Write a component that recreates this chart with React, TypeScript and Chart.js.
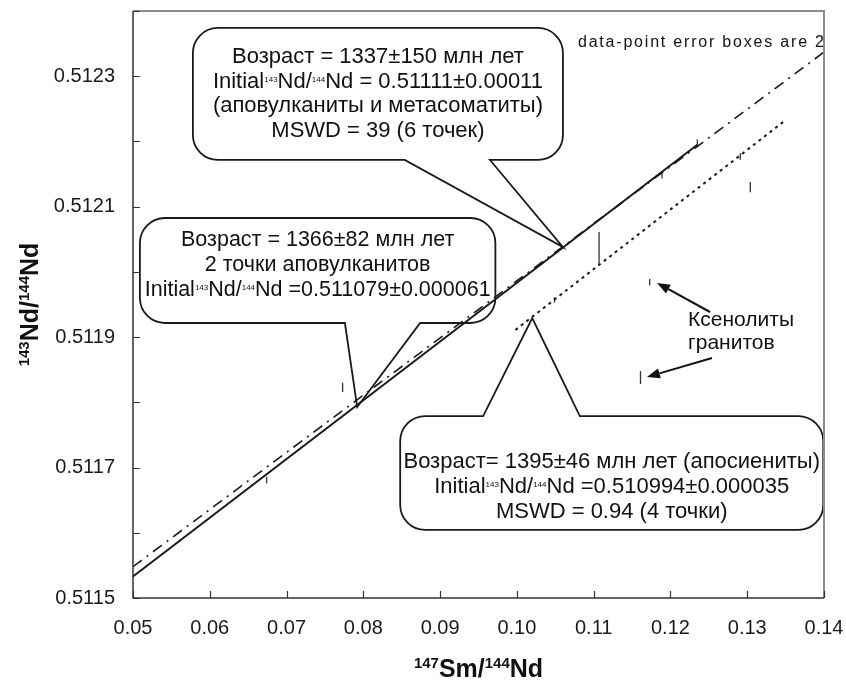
import React, { useEffect, useRef } from 'react';
import { Chart, registerables } from 'chart.js';

Chart.register(...registerables);

const FONT = "'Liberation Sans', Arial, Helvetica, sans-serif";

// Axis ranges and ticks
const xMin = 0.05;
const xMax = 0.14;
const yMin = 0.5115;
const yMax = 0.5124;
const xTickValues = [0.05, 0.06, 0.07, 0.08, 0.09, 0.10, 0.11, 0.12, 0.13, 0.14];
const xTickLabels = ['0.05', '0.06', '0.07', '0.08', '0.09', '0.10', '0.11', '0.12', '0.13', '0.14'];
const yTickValues = [0.5115, 0.5116, 0.5117, 0.5118, 0.5119, 0.5120, 0.5121, 0.5122, 0.5123, 0.5124];
const yTickLabels = ['0.5115', '', '0.5117', '', '0.5119', '', '0.5121', '', '0.5123', ''];

// Isochron lines (end points)
const solidLineX = [0.05, 0.1235];
const solidLineY = [0.511533, 0.512195];
const dashDotLineX = [0.05, 0.14];
const dashDotLineY = [0.511548, 0.512337];
const dottedLineX = [0.0998, 0.1347];
const dottedLineY = [0.511911, 0.51223];

// Data-point error boxes (x, y, half height in y)
const pointX = [0.0674, 0.0773, 0.1107, 0.1304, 0.1173, 0.1161, 0.1189, 0.1235, 0.1291, 0.1049];
const pointY = [0.511681, 0.511823, 0.512036, 0.51213, 0.511984, 0.511838, 0.512148, 0.512197, 0.512177, 0.511957];
const pointErr = [0.000005, 0.000007, 0.000025, 0.000008, 0.000005, 0.00001, 0.000005, 0.000006, 0.000005, 0.000004];

// Callout texts
const calloutTopLines = [
  'Возраст = 1337±150 млн лет',
  'Initial^{143}Nd/^{144}Nd = 0.51111±0.00011',
  '(аповулканиты и метасоматиты)',
  'MSWD = 39 (6 точек)',
];
const calloutMidLines = [
  'Возраст = 1366±82 млн лет',
  '2 точки аповулканитов',
  'Initial^{143}Nd/^{144}Nd =0.511079±0.000061',
];
const calloutBottomLines = [
  'Возраст= 1395±46 млн лет (апосиениты)',
  'Initial^{143}Nd/^{144}Nd =0.510994±0.000035',
  'MSWD = 0.94 (4 точки)',
];
const errorNote = 'data-point error boxes are 2σ';
const xenoLabelLines = ['Ксенолиты', 'гранитов'];

// Annotation placement (data coordinates)
const callouts = [
  {
    box: { x0: 0.0578, x1: 0.106, yTop: 0.512374, yBot: 0.5121716 },
    ptr: { side: 'bottom', b0: 0.0854, b1: 0.0965, tx: 0.106, ty: 0.512038 },
    lines: calloutTopLines,
    firstY: 0.5123295,
    size: 22,
    gap: 24.5,
  },
  {
    box: { x0: 0.0509, x1: 0.0972, yTop: 0.5120826, yBot: 0.5119216 },
    ptr: { side: 'bottom', b0: 0.0776, b1: 0.0874, tx: 0.0792, ty: 0.5117928 },
    lines: calloutMidLines,
    firstY: 0.5120489,
    size: 21.5,
    gap: 25,
  },
  {
    box: { x0: 0.0848, x1: 0.1399, yTop: 0.511779, yBot: 0.5116043 },
    ptr: { side: 'top', b0: 0.0956, b1: 0.1082, tx: 0.102, ty: 0.5119293 },
    lines: calloutBottomLines,
    firstY: 0.5117085,
    size: 22,
    gap: 25,
  },
];
const errorNotePos = { x: 0.10795, y: 0.512351 };
const xenoLabelPos = { x: 0.1223, y: 0.5119262 };
const xenoArrows = [
  { fx: 0.12515, fy: 0.5119385, tx: 0.11825, ty: 0.511983 },
  { fx: 0.12541, fy: 0.511868, tx: 0.11694, ty: 0.5118388 },
];

type Part = { t: string; sup: boolean };
function parseRich(s: string): Part[] {
  const parts: Part[] = [];
  const re = /\^\{([^}]*)\}/g;
  let last = 0;
  let m: RegExpExecArray | null;
  while ((m = re.exec(s))) {
    if (m.index > last) parts.push({ t: s.slice(last, m.index), sup: false });
    parts.push({ t: m[1], sup: true });
    last = re.lastIndex;
  }
  if (last < s.length) parts.push({ t: s.slice(last), sup: false });
  return parts;
}

function drawRichCentered(ctx: CanvasRenderingContext2D, s: string, cx: number, cy: number, size: number, supSize: number) {
  const parts = parseRich(s);
  const mainFont = `${size}px ${FONT}`;
  const supFont = `${supSize}px ${FONT}`;
  let total = 0;
  const widths = parts.map((p) => {
    ctx.font = p.sup ? supFont : mainFont;
    const w = ctx.measureText(p.t).width;
    total += w;
    return w;
  });
  let x = cx - total / 2;
  ctx.textAlign = 'left';
  ctx.textBaseline = 'middle';
  parts.forEach((p, i) => {
    ctx.font = p.sup ? supFont : mainFont;
    ctx.fillText(p.t, x, p.sup ? cy - 2 : cy);
    x += widths[i];
  });
}

function drawTitle(ctx: CanvasRenderingContext2D, parts: Part[], cx: number, baseline: number) {
  const mainFont = `bold 25px ${FONT}`;
  const supFont = `bold 15px ${FONT}`;
  let total = 0;
  const widths = parts.map((p) => {
    ctx.font = p.sup ? supFont : mainFont;
    const w = ctx.measureText(p.t).width;
    total += w;
    return w;
  });
  let x = cx - total / 2;
  ctx.textAlign = 'left';
  ctx.textBaseline = 'alphabetic';
  parts.forEach((p, i) => {
    ctx.font = p.sup ? supFont : mainFont;
    ctx.fillText(p.t, x, p.sup ? baseline - 9 : baseline);
    x += widths[i];
  });
}

function calloutPath(ctx: CanvasRenderingContext2D, l: number, t: number, r: number, b: number, rad: number, ptr: any) {
  ctx.beginPath();
  ctx.moveTo(l + rad, t);
  if (ptr.side === 'top') {
    ctx.lineTo(ptr.b0, t);
    ctx.lineTo(ptr.tx, ptr.ty);
    ctx.lineTo(ptr.b1, t);
  }
  ctx.lineTo(r - rad, t);
  ctx.arcTo(r, t, r, t + rad, rad);
  ctx.lineTo(r, b - rad);
  ctx.arcTo(r, b, r - rad, b, rad);
  if (ptr.side === 'bottom') {
    ctx.lineTo(ptr.b1, b);
    ctx.lineTo(ptr.tx, ptr.ty);
    ctx.lineTo(ptr.b0, b);
  }
  ctx.lineTo(l + rad, b);
  ctx.arcTo(l, b, l, b - rad, rad);
  ctx.lineTo(l, t + rad);
  ctx.arcTo(l, t, l + rad, t, rad);
  ctx.closePath();
}

function drawArrow(ctx: CanvasRenderingContext2D, fx: number, fy: number, tx: number, ty: number) {
  const ang = Math.atan2(ty - fy, tx - fx);
  const head = 13;
  const hw = 5;
  const bx = tx - head * Math.cos(ang);
  const by = ty - head * Math.sin(ang);
  ctx.beginPath();
  ctx.moveTo(fx, fy);
  ctx.lineTo(bx, by);
  ctx.stroke();
  ctx.beginPath();
  ctx.moveTo(tx, ty);
  ctx.lineTo(bx + hw * Math.sin(ang), by - hw * Math.cos(ang));
  ctx.lineTo(bx - hw * Math.sin(ang), by + hw * Math.cos(ang));
  ctx.closePath();
  ctx.fill();
}

const annotationPlugin = {
  id: 'isochronAnnotations',
  beforeDatasetsDraw(chart: any) {
    const ctx: CanvasRenderingContext2D = chart.ctx;
    const xs = chart.scales.x;
    const ys = chart.scales.y;
    const X = (v: number) => xs.getPixelForValue(v);
    const Y = (v: number) => ys.getPixelForValue(v);
    ctx.save();
    callouts.forEach((c) => {
      const l = X(c.box.x0);
      const r = X(c.box.x1);
      const t = Y(c.box.yTop);
      const b = Y(c.box.yBot);
      const ptr = { side: c.ptr.side, b0: X(c.ptr.b0), b1: X(c.ptr.b1), tx: X(c.ptr.tx), ty: Y(c.ptr.ty) };
      calloutPath(ctx, l, t, r, b, 25, ptr);
      ctx.fillStyle = '#ffffff';
      ctx.fill();
      ctx.strokeStyle = '#1a1a1a';
      ctx.lineWidth = 1.8;
      ctx.stroke();
      ctx.fillStyle = '#111111';
      const cx = (l + r) / 2;
      const y0 = Y(c.firstY);
      c.lines.forEach((line, i) => drawRichCentered(ctx, line, cx, y0 + i * c.gap, c.size, 8));
    });
    // error note, clipped to the plot area
    const ca = chart.chartArea;
    ctx.save();
    ctx.beginPath();
    ctx.rect(ca.left, ca.top, ca.right - ca.left, ca.bottom - ca.top);
    ctx.clip();
    ctx.font = `16px ${FONT}`;
    (ctx as any).letterSpacing = '1.8px';
    ctx.fillStyle = '#111111';
    ctx.textAlign = 'left';
    ctx.textBaseline = 'middle';
    ctx.fillText(errorNote, X(errorNotePos.x), Y(errorNotePos.y));
    (ctx as any).letterSpacing = '0px';
    ctx.restore();
    // xenolith label and arrows
    ctx.font = `21px ${FONT}`;
    ctx.fillStyle = '#111111';
    ctx.textAlign = 'left';
    ctx.textBaseline = 'middle';
    xenoLabelLines.forEach((s, i) => ctx.fillText(s, X(xenoLabelPos.x), Y(xenoLabelPos.y) + i * 23));
    ctx.strokeStyle = '#111111';
    ctx.lineWidth = 2;
    xenoArrows.forEach((a) => drawArrow(ctx, X(a.fx), Y(a.fy), X(a.tx), Y(a.ty)));
    ctx.restore();
  },
  afterDatasetsDraw(chart: any) {
    const ctx: CanvasRenderingContext2D = chart.ctx;
    const ca = chart.chartArea;
    const xs = chart.scales.x;
    const ys = chart.scales.y;
    ctx.save();
    // top & right frame (grey)
    ctx.strokeStyle = '#8c8c8c';
    ctx.lineWidth = 2;
    ctx.beginPath();
    ctx.moveTo(ca.left, ca.top);
    ctx.lineTo(ca.right, ca.top);
    ctx.lineTo(ca.right, ca.bottom);
    ctx.stroke();
    // left & bottom axes (dark)
    ctx.strokeStyle = '#333333';
    ctx.lineWidth = 1.5;
    ctx.beginPath();
    ctx.moveTo(ca.left, ca.top);
    ctx.lineTo(ca.left, ca.bottom);
    ctx.lineTo(ca.right, ca.bottom);
    ctx.stroke();
    // inward ticks
    ctx.lineWidth = 1.2;
    ctx.beginPath();
    xTickValues.forEach((v) => {
      const px = Math.round(xs.getPixelForValue(v)) + 0.5;
      ctx.moveTo(px, ca.bottom);
      ctx.lineTo(px, ca.bottom - 7);
    });
    yTickValues.forEach((v) => {
      const py = Math.round(ys.getPixelForValue(v)) + 0.5;
      ctx.moveTo(ca.left, py);
      ctx.lineTo(ca.left + 7, py);
    });
    ctx.stroke();
    ctx.restore();
  },
  afterDraw(chart: any) {
    const ctx: CanvasRenderingContext2D = chart.ctx;
    const ca = chart.chartArea;
    ctx.save();
    ctx.fillStyle = '#111111';
    const xTitle: Part[] = [
      { t: '147', sup: true },
      { t: 'Sm/', sup: false },
      { t: '144', sup: true },
      { t: 'Nd', sup: false },
    ];
    drawTitle(ctx, xTitle, (ca.left + ca.right) / 2, 677);
    const yTitle: Part[] = [
      { t: '143', sup: true },
      { t: 'Nd/', sup: false },
      { t: '144', sup: true },
      { t: 'Nd', sup: false },
    ];
    ctx.translate(38, (ca.top + ca.bottom) / 2);
    ctx.rotate(-Math.PI / 2);
    drawTitle(ctx, yTitle, 0, 0);
    ctx.restore();
  },
};

export default function App() {
  const canvasRef = useRef<HTMLCanvasElement | null>(null);

  useEffect(() => {
    const canvas = canvasRef.current;
    if (!canvas) return;

    const errData: any[] = [];
    pointX.forEach((x, i) => {
      errData.push({ x, y: pointY[i] - pointErr[i] });
      errData.push({ x, y: pointY[i] + pointErr[i] });
      errData.push({ x, y: null });
    });

    const chart = new Chart(canvas, {
      type: 'line',
      data: {
        datasets: [
          {
            label: 'solid',
            data: solidLineX.map((x, i) => ({ x, y: solidLineY[i] })),
            borderColor: '#1a1a1a',
            borderWidth: 2,
            pointRadius: 0,
            fill: false,
          },
          {
            label: 'dashdot',
            data: dashDotLineX.map((x, i) => ({ x, y: dashDotLineY[i] })),
            borderColor: '#1a1a1a',
            borderWidth: 1.6,
            borderDash: [11, 6, 2, 6],
            pointRadius: 0,
            fill: false,
          },
          {
            label: 'dotted',
            data: dottedLineX.map((x, i) => ({ x, y: dottedLineY[i] })),
            borderColor: '#1a1a1a',
            borderWidth: 2,
            borderDash: [3, 4],
            pointRadius: 0,
            fill: false,
          },
          {
            label: 'errors',
            data: errData,
            borderColor: '#333333',
            borderWidth: 1.3,
            pointRadius: 0,
            spanGaps: false,
            fill: false,
          },
        ],
      },
      options: {
        animation: false,
        responsive: false,
        events: [],
        layout: { padding: { left: 0, right: 22, top: 11, bottom: 0 } },
        plugins: {
          legend: { display: false },
          tooltip: { enabled: false },
          title: { display: false },
        },
        scales: {
          x: {
            type: 'linear',
            min: xMin,
            max: xMax,
            grid: { display: false, drawTicks: false },
            border: { display: false },
            afterBuildTicks: (s: any) => {
              s.ticks = xTickValues.map((v) => ({ value: v }));
            },
            afterFit: (s: any) => {
              s.height = 83;
              s.paddingLeft = 0;
              s.paddingRight = 0;
            },
            ticks: {
              padding: 18,
              maxRotation: 0,
              autoSkip: false,
              color: '#1a1a1a',
              font: { family: FONT, size: 20 },
              callback: (_v: any, i: number) => xTickLabels[i],
            },
          },
          y: {
            type: 'linear',
            min: yMin,
            max: yMax,
            grid: { display: false, drawTicks: false },
            border: { display: false },
            afterBuildTicks: (s: any) => {
              s.ticks = yTickValues.map((v) => ({ value: v }));
            },
            afterFit: (s: any) => {
              s.width = 133;
              s.paddingTop = 0;
              s.paddingBottom = 0;
            },
            ticks: {
              padding: 18,
              autoSkip: false,
              color: '#1a1a1a',
              font: { family: FONT, size: 20 },
              callback: (_v: any, i: number) => yTickLabels[i],
            },
          },
        },
      },
      plugins: [annotationPlugin],
    } as any);

    return () => chart.destroy();
  }, []);

  return (
    <canvas
      ref={canvasRef}
      width={846}
      height={681}
      style={{ position: 'absolute', left: 0, top: 0, width: 846, height: 681, display: 'block', background: '#ffffff' }}
    />
  );
}
